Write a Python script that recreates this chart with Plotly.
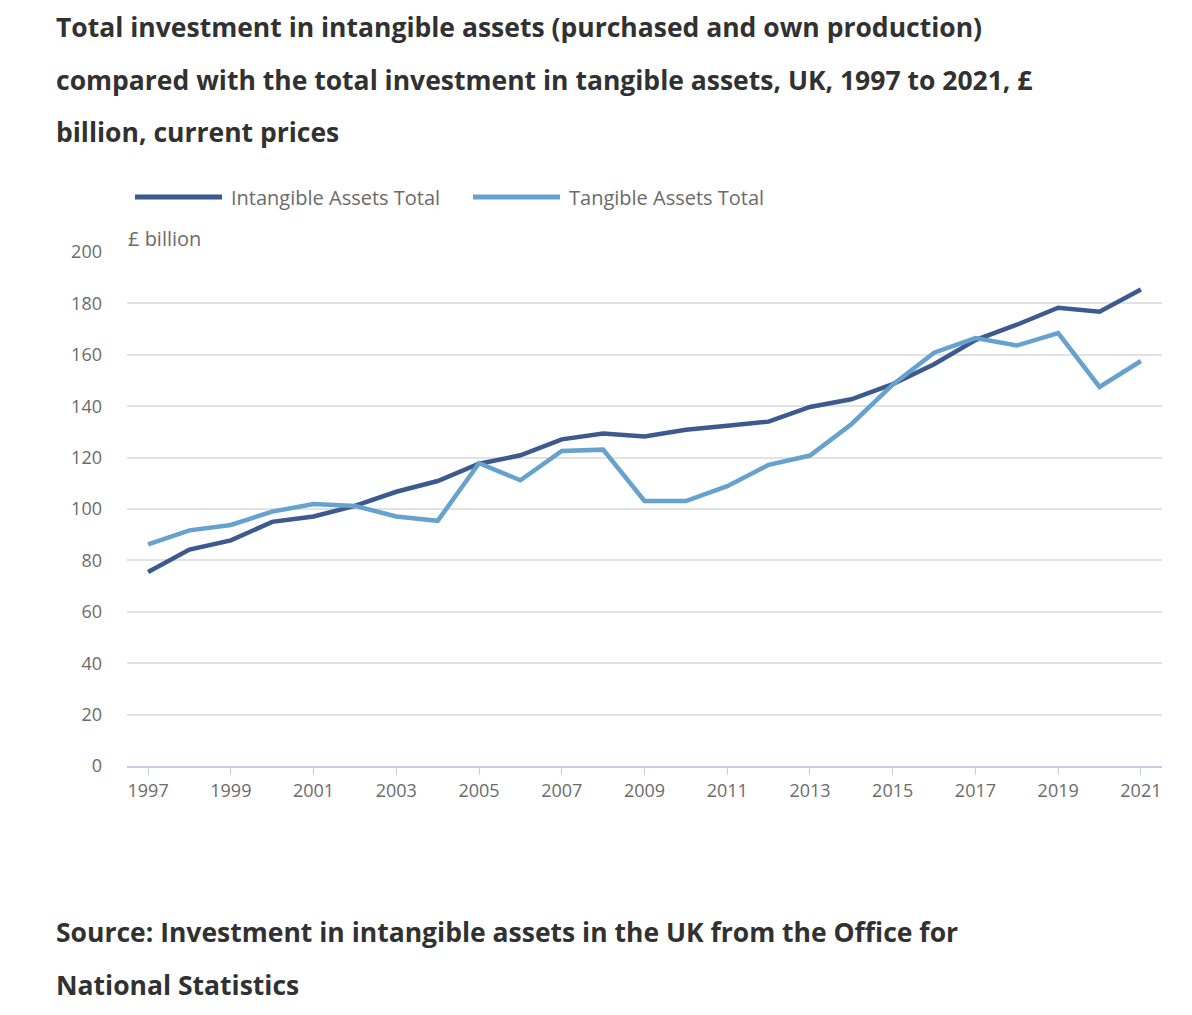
import plotly.graph_objects as go

years = list(range(1997, 2022))
intangible = [75.5, 84.2, 87.8, 95.0, 97.1, 101.2, 106.7, 110.9, 117.6, 120.9,
              127.1, 129.4, 128.2, 130.8, 132.4, 134.0, 139.7, 142.7, 148.6, 156.3,
              165.7, 171.7, 178.3, 176.8, 185.4]
tangible = [86.2, 91.7, 93.8, 99.0, 101.9, 101.2, 97.1, 95.4, 117.8, 111.2,
            122.6, 123.1, 103.1, 103.1, 108.9, 117.2, 120.8, 133.0, 148.4, 160.8,
            166.5, 163.6, 168.4, 147.5, 157.6]
series_names = ["Intangible Assets Total", "Tangible Assets Total"]
series_colors = ["#3d5a8e", "#66a2cd"]
x_ticks = list(range(1997, 2022, 2))
y_ticks = list(range(0, 201, 20))

title_lines = ["Total investment in intangible assets (purchased and own production)",
               "compared with the total investment in tangible assets, UK, 1997 to 2021, £",
               "billion, current prices"]
source_lines = ["Source: Investment in intangible assets in the UK from the Office for",
                "National Statistics"]

FONT = "Open Sans"
DARK = "#323132"
GREY = "#6b6b6b"

fig = go.Figure()
for name, vals, col in zip(series_names, [intangible, tangible], series_colors):
    fig.add_trace(go.Scatter(x=years, y=vals, mode="lines", name=name,
                             line=dict(color=col, width=4.5), showlegend=False))

# hand made legend with long swatches
legend_x = [(0.0077, 0.0918, 0.0985), (0.3343, 0.4184, 0.4252)]
for (x0, x1, xt), name, col in zip(legend_x, series_names, series_colors):
    fig.add_shape(type="line", xref="paper", yref="paper", x0=x0, x1=x1,
                  y0=1.107, y1=1.107, line=dict(color=col, width=5))
    fig.add_annotation(xref="paper", yref="paper", x=xt, y=1.107, text=name,
                       showarrow=False, xanchor="left", yanchor="middle",
                       font=dict(family=FONT, size=20, color=GREY))

fig.add_annotation(xref="paper", yref="paper", x=-0.001, y=1.0253, text="£ billion",
                   showarrow=False, xanchor="left", yanchor="middle",
                   font=dict(family=FONT, size=20, color=GREY))

# title and source, one annotation per line for the wide line spacing
for line, y in zip(title_lines, [1.4377, 1.3346, 1.2335]):
    fig.add_annotation(xref="paper", yref="paper", x=-0.071, y=y, text="<b>" + line + "</b>",
                       showarrow=False, xanchor="left", yanchor="middle", align="left",
                       font=dict(family=FONT, size=26.5, color=DARK))
for line, y in zip(source_lines, [-0.323, -0.426]):
    fig.add_annotation(xref="paper", yref="paper", x=-0.071, y=y, text="<b>" + line + "</b>",
                       showarrow=False, xanchor="left", yanchor="middle", align="left",
                       font=dict(family=FONT, size=26.5, color=DARK))

fig.update_xaxes(range=[1996.49, 2021.51], tickvals=x_ticks, showgrid=False,
                 ticks="outside", ticklen=7, tickcolor="#c5cde0", tickwidth=1,
                 showline=True, linecolor="#c5cde0", linewidth=2,
                 tickfont=dict(family=FONT, size=18, color=GREY), zeroline=False)
fig.update_yaxes(range=[0, 200], tickvals=y_ticks, showgrid=True, gridcolor="#e2e2e2",
                 gridwidth=1.5, zeroline=False, showline=False, ticklabelstandoff=24,
                 tickfont=dict(family=FONT, size=18, color=GREY))

fig.update_layout(width=1192, height=1015, plot_bgcolor="white", paper_bgcolor="white",
                  margin=dict(l=119, r=38, t=244, b=257),
                  font=dict(family=FONT))

fig.write_html("out.html")
